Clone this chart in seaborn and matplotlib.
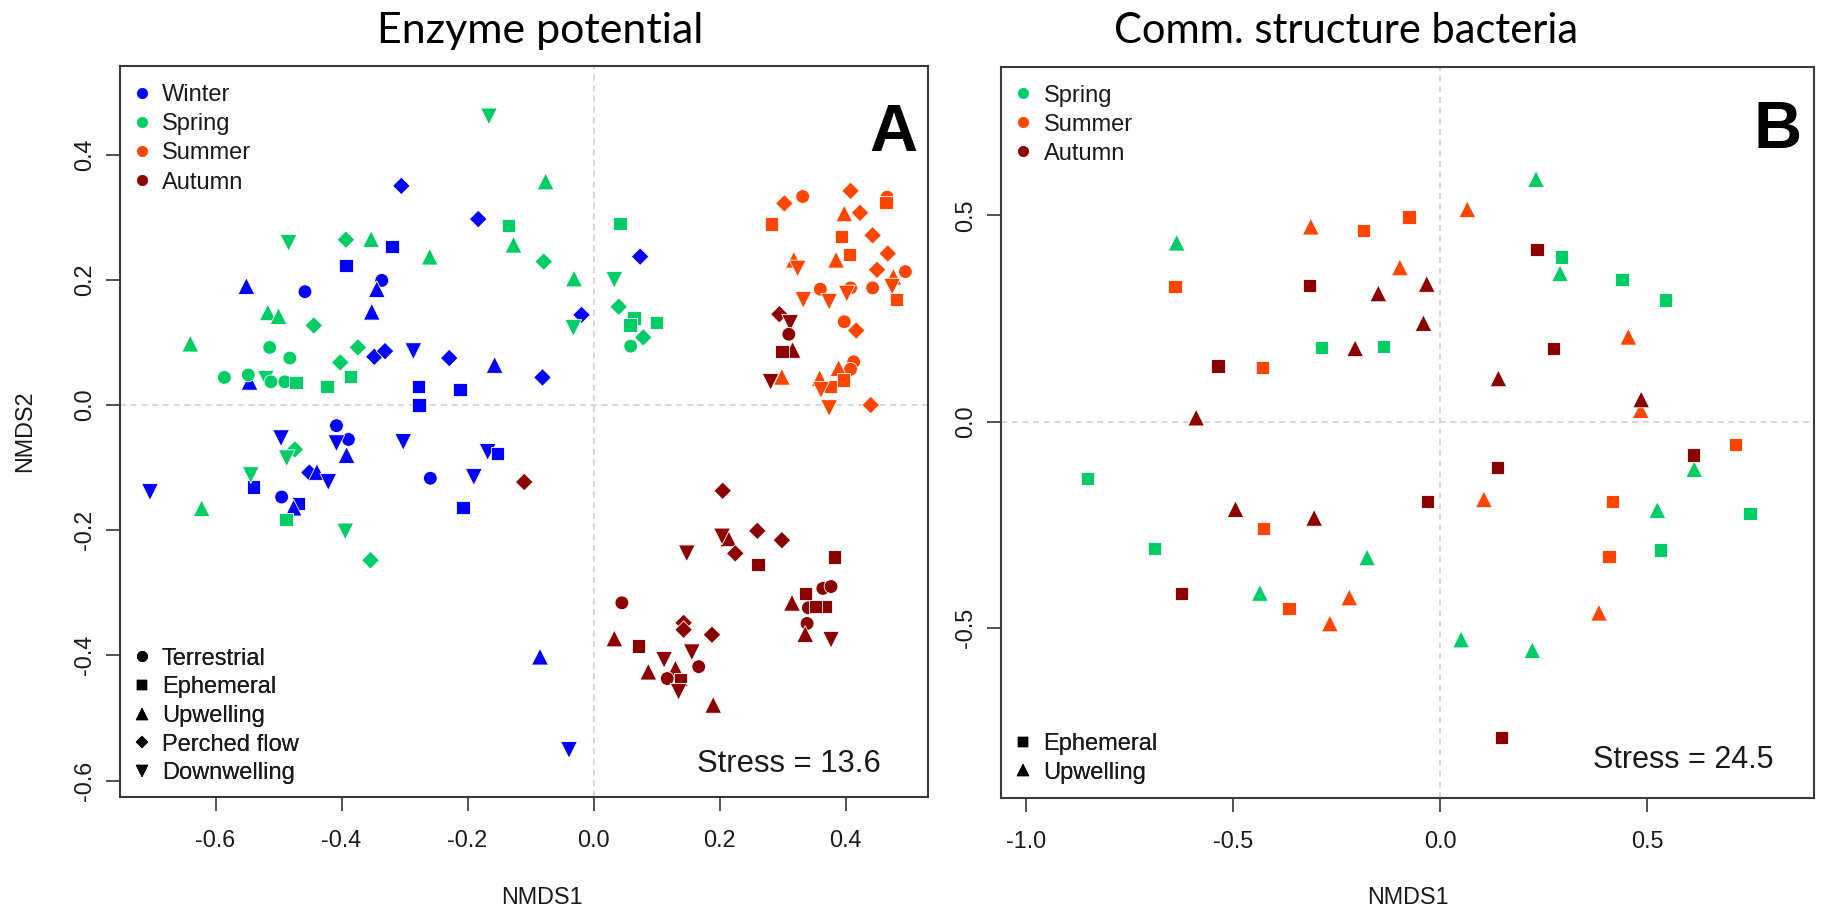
import matplotlib
matplotlib.use("Agg")
import matplotlib.pyplot as plt
import seaborn as sns
import pandas as pd
from matplotlib.lines import Line2D

sns.set_theme(style="white")
plt.rcParams["font.family"] = ["Liberation Sans", "DejaVu Sans"]
plt.rcParams["axes.unicode_minus"] = False

# ---------------- categories / styles ----------------
SEASONS_A = ["Winter", "Spring", "Summer", "Autumn"]
SEASONS_B = ["Spring", "Summer", "Autumn"]
SHAPES_A = ["Terrestrial", "Ephemeral", "Upwelling", "Perched flow", "Downwelling"]
SHAPES_B = ["Ephemeral", "Upwelling"]
CODE = {"T": "Terrestrial", "E": "Ephemeral", "U": "Upwelling", "P": "Perched flow", "D": "Downwelling"}
PALETTE = {"Winter": "#0000FF", "Spring": "#00CD66", "Summer": "#FF4500", "Autumn": "#8B0000"}
MARKERS = {"Terrestrial": "o", "Ephemeral": "s", "Upwelling": "^", "Perched flow": "D", "Downwelling": "v"}
SIZES = {"Terrestrial": 98, "Ephemeral": 92, "Upwelling": 145, "Perched flow": 80, "Downwelling": 145}

# ---------------- Panel A : Enzyme potential ----------------
A_WINTER_SHAPE = list("PPEEUTTUUPPDPUEEETPPUPDTDUDPUDEDTDETEUDEUD")
A_WINTER_X = [-0.305, -0.183, -0.320, -0.393, -0.551, -0.458, -0.336, -0.344, -0.352, -0.348,
              -0.331, -0.286, -0.229, -0.546, -0.278, -0.277, -0.212, -0.408, 0.074, -0.019,
              -0.157, -0.081, -0.496, -0.389, -0.408, -0.392, -0.302, -0.451, -0.439, -0.421,
              -0.540, -0.704, -0.259, -0.190, -0.207, -0.495, -0.468, -0.476, -0.168, -0.152,
              -0.085, -0.039]
A_WINTER_Y = [0.350, 0.297, 0.253, 0.223, 0.190, 0.181, 0.199, 0.185, 0.149, 0.077,
              0.086, 0.086, 0.075, 0.037, 0.029, 0.000, 0.025, -0.033, 0.237, 0.144,
              0.064, 0.044, -0.053, -0.055, -0.061, -0.080, -0.059, -0.108, -0.107, -0.123,
              -0.131, -0.139, -0.117, -0.115, -0.164, -0.147, -0.157, -0.164, -0.075, -0.077,
              -0.402, -0.551]

A_SPRING_SHAPE = list("DPUUUUPUTTPPTTDTTEEEDUEUPUEDDPEEEPTPDDUEDP")
A_SPRING_X = [-0.484, -0.393, -0.353, -0.260, -0.517, -0.500, -0.444, -0.640, -0.514, -0.482,
              -0.374, -0.402, -0.586, -0.548, -0.520, -0.512, -0.490, -0.472, -0.423, -0.386,
              -0.166, -0.076, -0.135, -0.127, -0.079, -0.031, 0.042, 0.033, -0.032, 0.040,
              0.064, 0.058, 0.100, 0.079, 0.059, -0.474, -0.487, -0.544, -0.622, -0.488,
              -0.394, -0.354]
A_SPRING_Y = [0.259, 0.264, 0.265, 0.237, 0.148, 0.142, 0.127, 0.098, 0.092, 0.075,
              0.092, 0.068, 0.044, 0.048, 0.042, 0.037, 0.037, 0.036, 0.029, 0.046,
              0.461, 0.357, 0.287, 0.256, 0.229, 0.202, 0.290, 0.200, 0.123, 0.157,
              0.139, 0.128, 0.132, 0.108, 0.094, -0.071, -0.085, -0.112, -0.165, -0.183,
              -0.202, -0.248]

A_SUMMER_SHAPE = list("EPTPTEUPEPEUPUDPUTDETDDTDTTPTTUEUUEDDP")
A_SUMMER_X = [0.282, 0.303, 0.332, 0.408, 0.466, 0.464, 0.398, 0.423, 0.394, 0.443,
              0.406, 0.385, 0.467, 0.318, 0.324, 0.450, 0.476, 0.495, 0.474, 0.481,
              0.360, 0.333, 0.374, 0.408, 0.402, 0.443, 0.398, 0.417, 0.413, 0.408,
              0.389, 0.397, 0.299, 0.359, 0.376, 0.361, 0.374, 0.440]
A_SUMMER_Y = [0.289, 0.322, 0.333, 0.342, 0.332, 0.323, 0.306, 0.307, 0.269, 0.271,
              0.240, 0.232, 0.242, 0.232, 0.218, 0.216, 0.205, 0.213, 0.189, 0.169,
              0.185, 0.168, 0.165, 0.187, 0.178, 0.187, 0.133, 0.119, 0.069, 0.057,
              0.059, 0.040, 0.045, 0.043, 0.029, 0.024, -0.005, 0.000]

A_AUTUMN_SHAPE = list("PDTUEDPPDUDPPPEETTEUTEETUDTUEPPPDTDUUTEDU")
A_AUTUMN_X = [0.295, 0.312, 0.310, 0.316, 0.299, 0.281, -0.110, 0.205, 0.148, 0.214,
              0.204, 0.225, 0.260, 0.299, 0.261, 0.382, 0.364, 0.377, 0.336, 0.315,
              0.341, 0.368, 0.352, 0.339, 0.336, 0.377, 0.045, 0.033, 0.071, 0.143,
              0.143, 0.188, 0.156, 0.167, 0.112, 0.087, 0.130, 0.117, 0.138, 0.135,
              0.190]
A_AUTUMN_Y = [0.145, 0.131, 0.113, 0.088, 0.085, 0.037, -0.123, -0.137, -0.237, -0.213,
              -0.210, -0.237, -0.201, -0.216, -0.255, -0.243, -0.293, -0.290, -0.301, -0.316,
              -0.324, -0.322, -0.322, -0.349, -0.366, -0.375, -0.316, -0.373, -0.385, -0.348,
              -0.359, -0.367, -0.395, -0.418, -0.407, -0.426, -0.421, -0.437, -0.439, -0.458,
              -0.479]

# ---------------- Panel B : Comm. structure bacteria ----------------
B_SPRING_SHAPE = list("UEEUEUEEEEUUUUEEUU")
B_SPRING_X = [-0.636, -0.287, -0.137, 0.232, 0.294, 0.290, 0.440, 0.544, -0.852, -0.690,
              -0.176, -0.435, 0.614, 0.525, 0.749, 0.533, 0.051, 0.223]
B_SPRING_Y = [0.434, 0.180, 0.182, 0.588, 0.399, 0.360, 0.344, 0.295, -0.137, -0.307,
              -0.329, -0.415, -0.115, -0.214, -0.222, -0.311, -0.528, -0.554]

B_SUMMER_SHAPE = list("EUEEUEUUUEEUUUEEEU")
B_SUMMER_X = [-0.640, -0.312, -0.184, -0.429, 0.066, -0.075, -0.097, 0.455, 0.485, -0.427,
              -0.365, -0.219, -0.266, 0.106, 0.714, 0.416, 0.408, 0.384]
B_SUMMER_Y = [0.327, 0.473, 0.463, 0.132, 0.515, 0.496, 0.374, 0.206, 0.028, -0.259,
              -0.452, -0.426, -0.489, -0.188, -0.055, -0.194, -0.326, -0.463]

B_AUTUMN_SHAPE = list("EUUEUEUUEUUUUEEEEE")
B_AUTUMN_X = [-0.316, -0.149, -0.205, -0.536, -0.589, 0.234, -0.032, -0.040, 0.274, 0.141,
              0.486, -0.494, -0.304, -0.624, -0.031, 0.139, 0.612, 0.149]
B_AUTUMN_Y = [0.331, 0.311, 0.178, 0.135, 0.010, 0.418, 0.334, 0.239, 0.178, 0.105,
              0.054, -0.212, -0.233, -0.416, -0.194, -0.111, -0.081, -0.765]


def frame(groups):
    rows = []
    for season, shapes, xs, ys in groups:
        for s, x, y in zip(shapes, xs, ys):
            rows.append({"season": season, "shape": CODE[s], "NMDS1": x, "NMDS2": y})
    return pd.DataFrame(rows)


dfA = frame([("Winter", A_WINTER_SHAPE, A_WINTER_X, A_WINTER_Y),
             ("Spring", A_SPRING_SHAPE, A_SPRING_X, A_SPRING_Y),
             ("Summer", A_SUMMER_SHAPE, A_SUMMER_X, A_SUMMER_Y),
             ("Autumn", A_AUTUMN_SHAPE, A_AUTUMN_X, A_AUTUMN_Y)])
dfB = frame([("Spring", B_SPRING_SHAPE, B_SPRING_X, B_SPRING_Y),
             ("Summer", B_SUMMER_SHAPE, B_SUMMER_X, B_SUMMER_Y),
             ("Autumn", B_AUTUMN_SHAPE, B_AUTUMN_X, B_AUTUMN_Y)])

W, H = 1824, 911
fig = plt.figure(figsize=(W / 100, H / 100), dpi=100)
fig.patch.set_facecolor("white")


def box(x0, y0, x1, y1):
    return [x0 / W, 1 - y1 / H, (x1 - x0) / W, (y1 - y0) / H]


axA = fig.add_axes(box(120, 66, 928, 797))
axB = fig.add_axes(box(1001, 67, 1814, 798))

TXT = "#1a1a1a"
GRID = "#cdcdcd"


def style_axes(ax, xlim, ylim, xticks, yticks, fmt):
    ax.axhline(0, color=GRID, lw=1.1, ls=(0, (4, 3)), zorder=0)
    ax.axvline(0, color=GRID, lw=1.1, ls=(0, (4, 3)), zorder=0)
    ax.set_xlim(*xlim)
    ax.set_ylim(*ylim)
    ax.set_xticks(xticks)
    ax.set_xticklabels([fmt.format(t) for t in xticks])
    ax.set_yticks(yticks)
    ax.set_yticklabels([fmt.format(t) for t in yticks], rotation=90, va="center")
    ax.tick_params(axis="both", direction="out", length=10, width=1.2, color="#333333",
                   labelsize=16.8, labelcolor=TXT, bottom=True, left=True, top=False, right=False)
    ax.tick_params(axis="x", pad=13)
    ax.tick_params(axis="y", pad=7)
    for sp in ax.spines.values():
        sp.set_color("#3a3a3a")
        sp.set_linewidth(1.5)
        sp.set_visible(True)
    ax.set_facecolor("white")


def season_legend(ax, seasons, anchor):
    hs = [Line2D([], [], marker="o", ls="none", markersize=7.5, markerfacecolor=PALETTE[s],
                 markeredgecolor=PALETTE[s], markeredgewidth=0.5) for s in seasons]
    leg = ax.legend(hs, seasons, loc="upper left", bbox_to_anchor=anchor, frameon=False,
                    fontsize=17, handlelength=0.6, handletextpad=0.56, labelspacing=0.3,
                    borderpad=0, borderaxespad=0, labelcolor=TXT)
    ax.add_artist(leg)


def shape_legend(ax, shapes, anchor):
    msz = {"Terrestrial": 7.5, "Ephemeral": 7.2, "Upwelling": 9, "Perched flow": 6.5, "Downwelling": 9}
    hs = [Line2D([], [], marker=MARKERS[s], ls="none", markersize=msz[s], markerfacecolor="black",
                 markeredgecolor="black", markeredgewidth=0.3) for s in shapes]
    leg = ax.legend(hs, shapes, loc="lower left", bbox_to_anchor=anchor, frameon=False,
                    fontsize=17, handlelength=0.6, handletextpad=0.56, labelspacing=0.28,
                    borderpad=0, borderaxespad=0, labelcolor=TXT)
    ax.add_artist(leg)


# ---- Panel A ----
style_axes(axA, (-0.7516, 0.5309), (-0.6262, 0.5415),
           [-0.6, -0.4, -0.2, 0.0, 0.2, 0.4], [-0.6, -0.4, -0.2, 0.0, 0.2, 0.4], "{:.1f}")
sns.scatterplot(data=dfA, x="NMDS1", y="NMDS2", hue="season", style="shape", size="shape",
                hue_order=SEASONS_A, style_order=SHAPES_A, size_order=SHAPES_A,
                palette=PALETTE, markers=MARKERS, sizes=SIZES, edgecolor="white",
                linewidth=0.6, legend=False, ax=axA, zorder=3)
axA.set_xlim(-0.7516, 0.5309)
axA.set_ylim(-0.6262, 0.5415)
axA.set_xlabel("NMDS1", fontsize=16.8, color=TXT)
axA.set_ylabel("NMDS2", fontsize=16.8, color=TXT)
axA.xaxis.set_label_coords((542 - 120) / 808, (797 - 897) / 731)
axA.xaxis.label.set_va("center")
axA.yaxis.set_label_coords((25 - 120) / 808, 0.5)
axA.yaxis.label.set_va("center")
season_legend(axA, SEASONS_A, (0.018, 0.975))
shape_legend(axA, SHAPES_A, (0.018, 0.0175))
axA.text(0.8273, 0.0338, "Stress = 13.6", transform=axA.transAxes, ha="center",
         va="baseline", fontsize=22.3, color=TXT)
axA.text(0.9567, 0.8837, "A", transform=axA.transAxes, ha="center", va="baseline",
         fontsize=48, fontweight="bold", color="black")

# ---- Panel B ----
style_axes(axB, (-1.0604, 0.9034), (-0.9122, 0.8599),
           [-1.0, -0.5, 0.0, 0.5], [-0.5, 0.0, 0.5], "{:.1f}")
sns.scatterplot(data=dfB, x="NMDS1", y="NMDS2", hue="season", style="shape", size="shape",
                hue_order=SEASONS_B, style_order=SHAPES_B, size_order=SHAPES_B,
                palette=PALETTE, markers={k: MARKERS[k] for k in SHAPES_B},
                sizes={k: SIZES[k] for k in SHAPES_B}, edgecolor="white",
                linewidth=0.6, legend=False, ax=axB, zorder=3)
axB.set_xlim(-1.0604, 0.9034)
axB.set_ylim(-0.9122, 0.8599)
axB.set_xlabel("NMDS1", fontsize=16.8, color=TXT)
axB.set_ylabel("")
axB.xaxis.set_label_coords((1408 - 1001) / 813, (798 - 897) / 731)
axB.xaxis.label.set_va("center")
season_legend(axB, SEASONS_B, (0.0187, 0.976))
shape_legend(axB, SHAPES_B, (0.0187, 0.0198))
axB.text(0.8389, 0.0406, "Stress = 24.5", transform=axB.transAxes, ha="center",
         va="baseline", fontsize=22, color=TXT)
axB.text(0.9557, 0.8892, "B", transform=axB.transAxes, ha="center", va="baseline",
         fontsize=48, fontweight="bold", color="black")

# ---- titles ----
fig.text(540 / W, 1 - 43.3 / H, "Enzyme potential", ha="center", va="baseline",
         fontsize=31, family=["Lato", "DejaVu Sans"], color="black")
fig.text(1346 / W, 1 - 43.3 / H, "Comm. structure bacteria", ha="center", va="baseline",
         fontsize=30, family=["Lato", "DejaVu Sans"], color="black")

fig.savefig("out.png", dpi=100, facecolor="white")
